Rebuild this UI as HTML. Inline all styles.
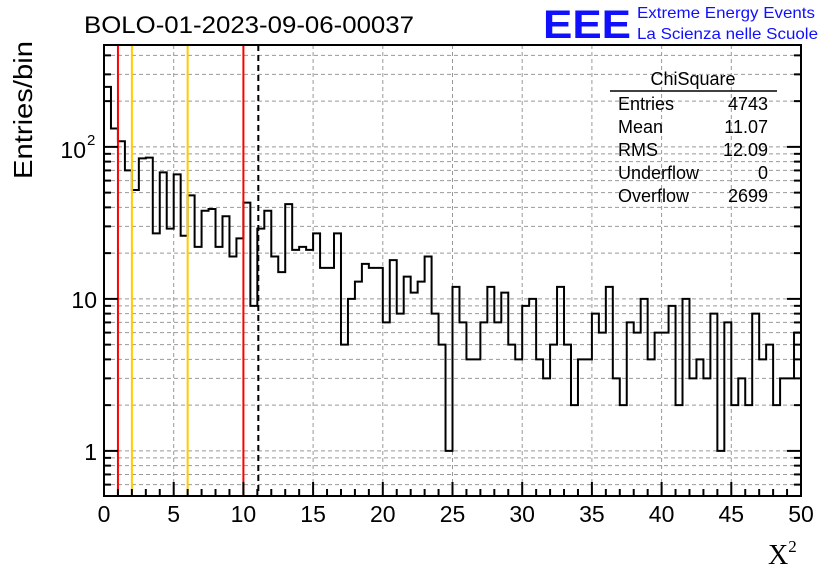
<!DOCTYPE html>
<html><head><meta charset="utf-8"><style>
html,body{margin:0;padding:0;background:#fff;}
svg{display:block;font-family:"Liberation Sans",sans-serif;}
</style></head><body>
<svg id="chart" width="836" height="572" viewBox="0 0 836 572">
<rect width="836" height="572" fill="#fff"/>
<g id="grid"></g>
<g id="marks"></g>
<g id="lines"></g>
<g id="axes"></g>
<text x="84" y="33" font-size="24" textLength="330" lengthAdjust="spacingAndGlyphs">BOLO-01-2023-09-06-00037</text>
<text x="543" y="38" font-size="40" font-weight="bold" fill="#1010ff" textLength="88" lengthAdjust="spacingAndGlyphs">EEE</text>
<text x="637" y="18" font-size="16" fill="#1010ff" textLength="178" lengthAdjust="spacingAndGlyphs">Extreme Energy Events</text>
<text x="637" y="39" font-size="16" fill="#1010ff" textLength="181" lengthAdjust="spacingAndGlyphs">La Scienza nelle Scuole</text>
<text transform="translate(32,110) rotate(-90)" text-anchor="middle" font-size="26" textLength="138" lengthAdjust="spacingAndGlyphs">Entries/bin</text>
<text x="768" y="564" font-size="28" font-family="Liberation Serif,serif">X<tspan font-size="17" dy="-12">2</tspan></text>
<g font-size="18">
<text x="693" y="85" text-anchor="middle">ChiSquare</text>
<line x1="610" y1="91" x2="777" y2="91" stroke="#000" stroke-width="1.5"/>
<text x="618" y="110">Entries</text><text x="768" y="110" text-anchor="end">4743</text>
<text x="618" y="133">Mean</text><text x="768" y="133" text-anchor="end">11.07</text>
<text x="618" y="156">RMS</text><text x="768" y="156" text-anchor="end">12.09</text>
<text x="618" y="179">Underflow</text><text x="768" y="179" text-anchor="end">0</text>
<text x="618" y="202">Overflow</text><text x="768" y="202" text-anchor="end">2699</text>
</g>
</svg>
<script>
const binEdgesMin = 0, binWidth = 0.5;
const counts = [248,132,109,70,52,84,85,27,68,29,66,26,48,22,38,39,22,35,19,25,43,9,29,38,19,15,42,21,22,21,27,16,16,27,5,10,13,17,16,16,7,18,8,14,11,13,19,8,5,1,12,7,4,4,7,12,7,11,5,4,9,10,4,3,5,12,5,2,4,4,8,6,12,3,2,7,6,10,4,6,6,9,2,10,3,4,3,8,1,7,2,3,2,8,4,5,2,3,3,6];
const xTicks = [0,5,10,15,20,25,30,35,40,45,50];
const vLinesRed = [1,10];
const vLinesOrange = [2,6];
const meanLine = [11.07];
const L=104,R=801,T=45,B=496, ymin=0.505, ymax=468;
const NS='http://www.w3.org/2000/svg';
const sx=v=>L+(v-0)/(50-0)*(R-L);
const sy=v=>B-(Math.log10(v)-Math.log10(ymin))/(Math.log10(ymax)-Math.log10(ymin))*(B-T);
function mk(tag,attrs,parent){const e=document.createElementNS(NS,tag);for(const k in attrs)e.setAttribute(k,attrs[k]);parent.appendChild(e);return e;}
const grid=document.getElementById('grid'),axes=document.getElementById('axes'),marks=document.getElementById('marks'),lines=document.getElementById('lines');
xTicks.forEach(t=>{if(t>0&&t<50){const g=mk('line',{x1:sx(t),x2:sx(t),y1:T,y2:B,stroke:'#999','stroke-dasharray':'4,3','stroke-width':1},grid);

}});
[0.1,1,10,100].forEach(d=>{for(let m=1;m<10;m++){const v=d*m;if(v>ymin&&v<ymax){
const g=mk('line',{x1:L,x2:R,y1:sy(v),y2:sy(v),stroke:'#999','stroke-dasharray':'4,3','stroke-width':1},grid);


const big=(m===1);
const t1=mk('line',{x1:L,x2:L+(big?14:7),y1:sy(v),y2:sy(v),stroke:'#000','stroke-width':2},axes);


const t2=mk('line',{x1:R,x2:R-(big?14:7),y1:sy(v),y2:sy(v),stroke:'#000','stroke-width':2},axes);

}}});
let d='M'+sx(0)+','+B;
counts.forEach((c,i)=>{const y=sy(Math.max(c,ymin));d+=' L'+sx(binEdgesMin+i*binWidth)+','+y+' L'+sx(binEdgesMin+(i+1)*binWidth)+','+y;});
const p=mk('path',{d:d,fill:'none',stroke:'#000','stroke-width':2},marks);


vLinesRed.forEach(v=>{const l=mk('line',{x1:sx(v),x2:sx(v),y1:T,y2:B,stroke:'#ff0000','stroke-width':2},lines);

});
vLinesOrange.forEach(v=>{const l=mk('line',{x1:sx(v),x2:sx(v),y1:T,y2:B,stroke:'#ffcc00','stroke-width':2},lines);

});
meanLine.forEach(v=>{const l=mk('line',{x1:sx(v),x2:sx(v),y1:T,y2:B,stroke:'#000','stroke-width':2,'stroke-dasharray':'6,4'},lines);

});
const f=mk('rect',{x:L,y:T,width:R-L,height:B-T,fill:'none',stroke:'#000','stroke-width':2},axes);


for(let v=0;v<=50;v++){const big=v%5===0;
const t=mk('line',{x1:sx(v),x2:sx(v),y1:B,y2:B-(big?14:7),stroke:'#000','stroke-width':2},axes);

}
xTicks.forEach(v=>{const t=mk('text',{x:sx(v),y:522,'text-anchor':'middle','font-size':23},axes);t.textContent=String(v);

});
const yl1=mk('text',{x:97,y:460,'text-anchor':'end','font-size':23},axes);yl1.textContent='1';


const yl2=mk('text',{x:97,y:308,'text-anchor':'end','font-size':23},axes);yl2.textContent='10';


const yl3=mk('text',{x:86,y:158,'text-anchor':'end','font-size':23},axes);yl3.textContent='10';


const yl4=mk('text',{x:87,y:145,'font-size':15},axes);yl4.textContent='2';


</script>
</body></html>
